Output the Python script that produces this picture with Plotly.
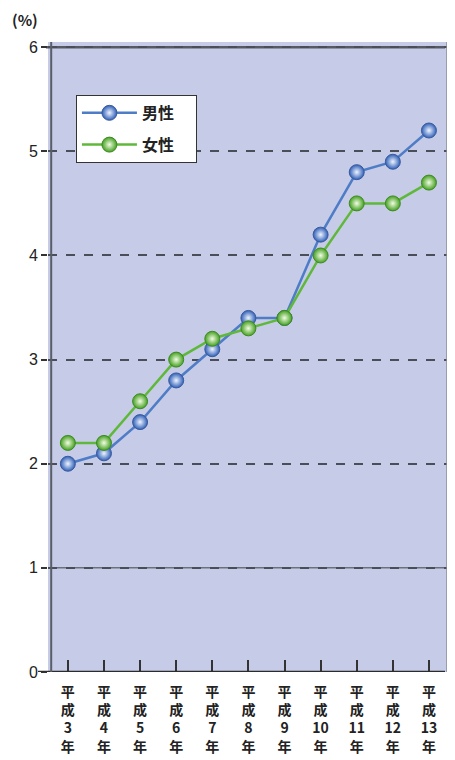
import plotly.graph_objects as go

categories = ["平<br>成<br>3<br>年", "平<br>成<br>4<br>年", "平<br>成<br>5<br>年", "平<br>成<br>6<br>年",
              "平<br>成<br>7<br>年", "平<br>成<br>8<br>年", "平<br>成<br>9<br>年", "平<br>成<br>10<br>年",
              "平<br>成<br>11<br>年", "平<br>成<br>12<br>年", "平<br>成<br>13<br>年"]
male = [2.0, 2.1, 2.4, 2.8, 3.1, 3.4, 3.4, 4.2, 4.8, 4.9, 5.2]
female = [2.2, 2.2, 2.6, 3.0, 3.2, 3.3, 3.4, 4.0, 4.5, 4.5, 4.7]
y_ticks = [0, 1, 2, 3, 4, 5, 6]

FONT = "Noto Sans CJK JP, Liberation Sans, Arial, sans-serif"

fig = go.Figure()
fig.add_trace(go.Scatter(
    x=categories, y=male, name="男性　", mode="lines+markers", legendgroup="m",
    line=dict(color="#4f7cc6", width=2.5),
    marker=dict(size=15, color="#2f5fb8", gradient=dict(type="radial", color="#eef4ff"),
                line=dict(color="#3a5a9a", width=1)),
))
fig.add_trace(go.Scatter(
    x=categories, y=female, name="女性　", mode="lines+markers", legendgroup="f",
    line=dict(color="#5fb83a", width=2.5),
    marker=dict(size=15, color="#43a01f", gradient=dict(type="radial", color="#f2fce4"),
                line=dict(color="#3f8a25", width=1)),
))

# top solid line at 6, solid line at 1, and baseline at 0 extending left
fig.add_shape(type="line", xref="paper", yref="y", x0=-0.005, x1=0.995, y0=6, y1=6,
              line=dict(color="#555a63", width=2.5), layer="below")
fig.add_shape(type="line", xref="paper", yref="y", x0=0, x1=1, y0=1, y1=1,
              line=dict(color="#6b707b", width=1.5), layer="below")
fig.add_shape(type="line", xref="paper", yref="y", x0=-0.025, x1=0.995, y0=0, y1=0,
              line=dict(color="#2b2b2b", width=2.5))
fig.add_shape(type="line", xref="paper", yref="paper", x0=0.008, x1=0.008, y0=0, y1=1,
              line=dict(color="#5a5e66", width=2))
fig.add_shape(type="line", xref="paper", yref="paper", x0=1, x1=1, y0=0, y1=1,
              line=dict(color="#8a8f99", width=1.5))

fig.add_annotation(text="(%)", xref="paper", yref="paper", x=-0.095, y=1.035,
                   xanchor="left", yanchor="middle", showarrow=False,
                   font=dict(family=FONT, size=15, color="#222", weight="bold"))

# page has an 8px body margin, so the figure is 8px smaller than the window
fig.update_layout(
    width=447, height=752,
    margin=dict(l=40, r=8, t=34, b=88, autoexpand=False),
    paper_bgcolor="white",
    plot_bgcolor="#c6cce8",
    showlegend=True,
    legend=dict(x=0.07, y=0.916, xanchor="left", yanchor="top",
                bgcolor="white", bordercolor="#333", borderwidth=1,
                font=dict(family=FONT, size=16, color="#222", weight="bold"),
                itemwidth=55, traceorder="grouped", tracegroupgap=8),
    font=dict(family=FONT, color="#222"),
)
fig.update_xaxes(
    type="category", range=[-0.55, 10.5], showgrid=False, zeroline=False,
    ticks="inside", ticklen=12, tickwidth=1.5, tickcolor="#333",
    tickfont=dict(family=FONT, size=14, color="#222", weight="bold"),
    ticklabelstandoff=10, fixedrange=True, automargin=False,
)
fig.update_yaxes(
    range=[0, 6.05], tickvals=y_ticks, showgrid=True, gridcolor="#4a4e58",
    gridwidth=1.5, griddash="dash", zeroline=False,
    ticks="outside", ticklen=6, tickwidth=1.5, tickcolor="#333",
    tickfont=dict(family="Liberation Sans, Arial, sans-serif", size=16, color="#222"),
    fixedrange=True, automargin=False,
)

fig.write_html("out.html")
